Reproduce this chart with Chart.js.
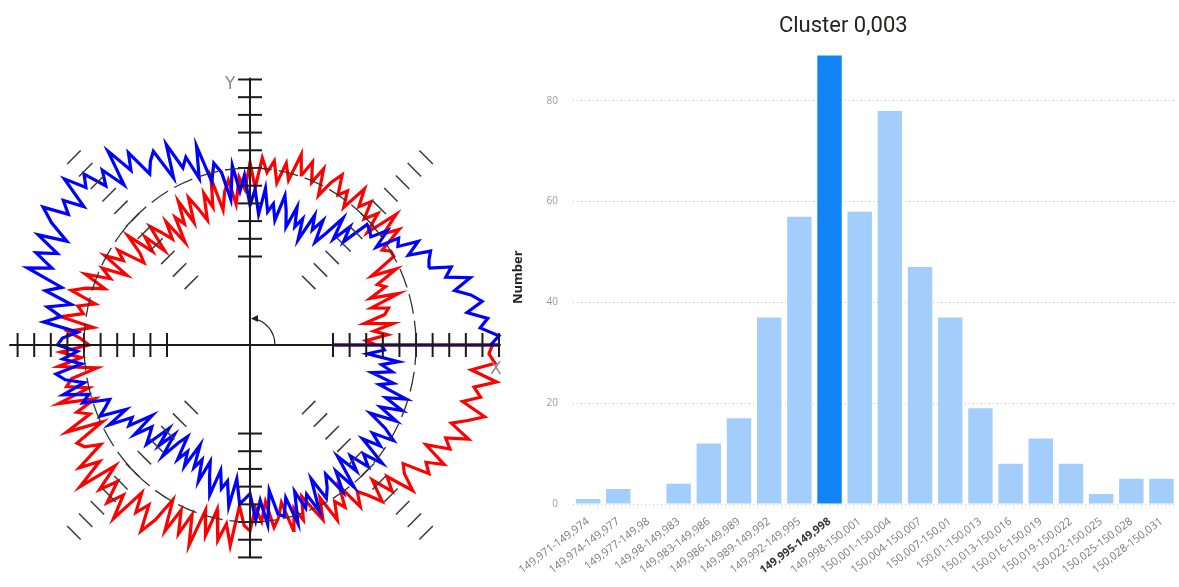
<!DOCTYPE html>
<html>
<head>
<meta charset="utf-8">
<script src="https://cdn.jsdelivr.net/npm/chart.js@4.4.0/dist/chart.umd.min.js"></script>
<style>
  html, body { margin: 0; padding: 0; background: #fff; }
  #wrap { position: relative; width: 1179px; height: 587px; overflow: hidden; }
  #roundCanvas { position: absolute; left: 0; top: 0; }
  #histCanvas { position: absolute; left: 505px; top: 0; }
</style>
</head>
<body>
<div id="wrap">
  <canvas id="roundCanvas" width="510" height="587"></canvas>
  <canvas id="histCanvas" width="674" height="587"></canvas>
</div>
<script>
// Histograma (lado direito)
const classLabels = [
  '149,971-149,974', '149,974-149,977', '149,977-149,98', '149,98-149,983',
  '149,983-149,986', '149,986-149,989', '149,989-149,992', '149,992-149,995',
  '149,995-149,998', '149,998-150,001', '150,001-150,004', '150,004-150,007',
  '150,007-150,01', '150,01-150,013', '150,013-150,016', '150,016-150,019',
  '150,019-150,022', '150,022-150,025', '150,025-150,028', '150,028-150,031'
];
const classCounts = [1, 3, 0, 4, 12, 17, 37, 57, 89, 58, 78, 47, 37, 19, 8, 13, 8, 2, 5, 5];
const highlightIndex = 8;
const countTicks = [0, 20, 40, 60, 80];

// Gráfico de circularidade (lado esquerdo): ângulo em graus, raio em unidades (círculo de referência = 100)
const traceAngles = [
  0, 0, 0, 2, 4, 6, 8, 10, 12, 14, 16, 18, 20, 22, 24, 26, 28, 30, 32, 34, 36, 38, 40, 42, 44,
  46, 48, 50, 52, 54, 56, 58, 60, 62, 64, 66, 68, 70, 72, 74, 76, 78, 80, 82, 84, 86, 88,
  90, 92, 94, 96, 98, 100, 102, 104, 106, 108, 110, 112, 114, 116, 118, 120, 122, 124, 126, 128,
  130, 132, 134, 136, 138, 140, 142, 144, 146, 148, 150, 152, 154, 156, 158, 160, 162, 164, 166,
  168, 170, 172, 174, 176, 178,
  180, 182, 184, 186, 188, 190, 192, 194, 196, 198, 200, 202, 204, 206, 208, 210, 212, 214, 216,
  218, 220, 222, 224, 226, 228, 230, 232, 234, 236, 238, 240, 242, 244, 246, 248, 250, 252, 254,
  256, 258, 260, 262, 264, 266, 268,
  270, 272, 274, 276, 278, 280, 282, 284, 286, 288, 290, 292, 294, 296, 298, 300, 302, 304, 306,
  308, 310, 312, 314, 316, 318, 320, 322, 324, 326, 328, 330, 332, 334, 336, 338, 340, 342, 344,
  346, 348, 350, 352, 354, 356, 358, 360, 360
];
const blueRadius = [
  50, 150, 145,
  150, 139, 144, 132, 142, 136, 127, 138, 124, 129, 116, 118, 121, 108, 117, 105, 108, 94, 105, 95, 97, 98,
  81, 90, 78, 91, 78, 70, 83, 75, 83, 66, 78, 72, 83, 70, 79, 87, 72, 81, 76, 89, 74, 88,
  79, 96, 87, 102, 83, 99, 105, 95, 117, 99, 113, 108, 124, 105, 124, 120, 114, 131, 122, 139,
  118, 133, 125, 139, 133, 146, 127, 139, 132, 147, 138, 125, 142, 127, 139, 127, 141, 118, 127,
  110, 124, 115, 125, 104, 113,
  116, 104, 113, 102, 118, 113, 102, 116, 101, 106, 90, 94, 99, 83, 96, 82, 86, 71, 86,
  75, 79, 84, 68, 79, 68, 82, 70, 64, 78, 71, 79, 64, 77, 71, 83, 70, 79, 88,
  73, 83, 78, 92, 76, 90, 87,
  84, 99, 88, 102, 83, 97, 99, 89, 105, 87, 98, 91, 103, 84, 98, 93, 86, 100, 88,
  102, 82, 96, 87, 99, 92, 104, 86, 97, 89, 102, 94, 82, 98, 86, 99, 87, 99, 81,
  89, 75, 87, 80, 90, 71, 81, 79, 50
];
const redRadius = [
  50, 150, 76,
  70, 83, 75, 87, 70, 83, 86, 76, 94, 77, 88, 84, 98, 83, 100, 100, 96, 111, 102, 115, 95, 107,
  99, 109, 102, 112, 96, 105, 100, 111, 104, 94, 109, 99, 110, 101, 112, 96, 105, 93, 105, 98, 106, 89,
  103, 88, 95, 80, 94, 88, 78, 97, 81, 90, 75, 83, 91, 77, 92, 79, 85, 70, 86, 76,
  83, 90, 74, 88, 79, 96, 84, 79, 96, 90, 101, 84, 99, 92, 107, 93, 104, 112, 96,
  106, 102, 115, 95, 110, 102,
  97, 114, 102, 116, 93, 109, 113, 100, 120, 98, 111, 104, 121, 99, 118, 115, 106, 124, 112,
  130, 106, 122, 111, 124, 114, 128, 106, 117, 109, 124, 114, 99, 117, 102, 115, 102, 119, 97,
  111, 95, 112, 102, 114, 91, 102,
  105, 92, 100, 89, 104, 99, 91, 108, 96, 104, 91, 99, 108, 96, 112, 102, 108, 96, 113,
  105, 111, 119, 106, 119, 111, 128, 118, 114, 130, 125, 135, 120, 134, 129, 142, 129, 138, 147,
  132, 142, 137, 150, 134, 148, 144, 146, 50
];
const refCircle = 100;
const axisTicksX = [-140, -130, -120, -110, -100, -90, -80, -70, -60, -50, 50, 60, 70, 80, 90, 100, 110, 120, 130, 140, 150];
const axisTicksY = [-120, -110, -100, -90, -80, -70, -60, -50, 50, 60, 70, 80, 90, 100, 110, 120, 130, 140, 150];
const diagTicks = [50, 60, 70, 80, 90, 100, 110, 120, 130, 140, 150];
const diagAngles = [45, 135, 225, 315];
const xAxisSpan = [-145, 151];
const yAxisSpan = [-120, 151];

Chart.defaults.font.family = '"Open Sans", sans-serif';

const DEG = Math.PI / 180;

function polarPoints(radii) {
  return radii.map((r, i) => ({
    x: r * Math.cos(traceAngles[i] * DEG),
    y: r * Math.sin(traceAngles[i] * DEG)
  }));
}

// Círculo tracejado, seta do ângulo e letras X / Y
const roundDecor = {
  id: 'roundDecor',
  afterDatasetsDraw(chart) {
    const { ctx, scales: { x, y } } = chart;
    const cx = x.getPixelForValue(0);
    const cy = y.getPixelForValue(0);
    ctx.save();
    ctx.strokeStyle = '#333';
    ctx.lineWidth = 1.3;
    ctx.setLineDash([20, 7]);
    ctx.beginPath();
    ctx.ellipse(cx, cy, x.getPixelForValue(refCircle) - cx, cy - y.getPixelForValue(refCircle), 0, 0, Math.PI * 2);
    ctx.stroke();

    ctx.setLineDash([]);
    ctx.lineWidth = 1.2;
    ctx.strokeStyle = '#222';
    const ax = x.getPixelForValue(15) - cx;
    const ay = cy - y.getPixelForValue(15);
    ctx.beginPath();
    ctx.ellipse(cx, cy, ax, ay, 0, -Math.PI / 2 + 0.1, 0);
    ctx.stroke();
    ctx.fillStyle = '#222';
    ctx.beginPath();
    ctx.moveTo(cx + 1, cy - ay);
    ctx.lineTo(cx + 8, cy - ay - 3.5);
    ctx.lineTo(cx + 8, cy - ay + 3.5);
    ctx.closePath();
    ctx.fill();

    ctx.fillStyle = '#8a8a8a';
    ctx.font = '17px "DejaVu Sans"';
    ctx.textAlign = 'center';
    ctx.textBaseline = 'middle';
    ctx.fillText('Y', x.getPixelForValue(-12), y.getPixelForValue(147));
    ctx.fillText('X', x.getPixelForValue(148), y.getPixelForValue(-13.6));
    ctx.restore();
  }
};

const tickSet = (points, rotation, radius, width, color) => ({
  data: points,
  showLine: false,
  pointStyle: 'line',
  pointRadius: radius,
  pointRotation: rotation,
  pointBorderColor: color,
  pointBackgroundColor: color,
  pointBorderWidth: width
});

const diagSets = diagAngles.map(a => tickSet(
  diagTicks.map(r => ({ x: r * Math.cos(a * DEG), y: r * Math.sin(a * DEG) })),
  (a === 45 || a === 225) ? 45 : -45, 9.5, 1.5, '#3a3a3a'
));

new Chart(document.getElementById('roundCanvas'), {
  type: 'scatter',
  data: {
    datasets: [
      { data: xAxisSpan.map(v => ({ x: v, y: 0 })), showLine: true, borderColor: '#1a1a1a', borderWidth: 2, pointRadius: 0 },
      { data: yAxisSpan.map(v => ({ x: 0, y: v })), showLine: true, borderColor: '#1a1a1a', borderWidth: 2, pointRadius: 0 },
      tickSet(axisTicksX.map(v => ({ x: v, y: 0 })), 90, 12, 2, '#1a1a1a'),
      tickSet(axisTicksY.map(v => ({ x: 0, y: v })), 0, 12, 2, '#1a1a1a'),
      ...diagSets,
      { data: polarPoints(blueRadius), showLine: true, borderColor: '#0000ff', borderWidth: 3.2, pointRadius: 0, tension: 0 },
      { data: polarPoints(redRadius), showLine: true, borderColor: '#ff0000', borderWidth: 3.2, pointRadius: 0, tension: 0 }
    ]
  },
  options: {
    responsive: false,
    animation: false,
    layout: { padding: 0, autoPadding: false },
    plugins: { legend: { display: false }, tooltip: { enabled: false } },
    scales: {
      x: { type: 'linear', min: -150.6, max: 156.6, display: false },
      y: { type: 'linear', min: -136.7, max: 194.9, display: false }
    }
  },
  plugins: [roundDecor]
});

new Chart(document.getElementById('histCanvas'), {
  type: 'bar',
  data: {
    labels: classLabels,
    datasets: [{
      data: classCounts,
      backgroundColor: classCounts.map((_, i) => i === highlightIndex ? '#1185f8' : '#a3cefc'),
      barPercentage: 0.81,
      categoryPercentage: 1
    }]
  },
  options: {
    responsive: false,
    animation: false,
    layout: { padding: { left: 5, right: 2.4, top: 0, bottom: 0 } },
    plugins: {
      legend: { display: false },
      tooltip: { enabled: false },
      title: {
        display: true,
        text: 'Cluster 0,003',
        color: '#252423',
        font: { family: 'Roboto', size: 22, weight: 'normal' },
        padding: { top: 13, bottom: 11 }
      }
    },
    scales: {
      x: {
        grid: { display: false },
        border: { display: false },
        ticks: {
          autoSkip: false,
          minRotation: 37,
          maxRotation: 37,
          padding: 3,
          color: (c) => c.index === highlightIndex ? '#333' : '#7a7a7a',
          font: (c) => ({ family: '"Open Sans"', size: 11, weight: c.index === highlightIndex ? 'bold' : 'normal' })
        },
        afterFit: (s) => { s.height = 83; s.paddingLeft = 0; s.paddingRight = 0; }
      },
      y: {
        min: 0,
        max: 90,
        afterBuildTicks: (s) => { s.ticks = countTicks.map(v => ({ value: v })); },
        grid: { color: '#c4c4c4', lineWidth: 1, drawTicks: false },
        border: { display: false, dash: [1, 3] },
        ticks: { color: '#9a9a9a', font: { size: 10 }, padding: 15 },
        title: {
          display: true,
          text: 'Number',
          color: '#252423',
          font: { size: 13, weight: 'bold' },
          padding: { top: 0, bottom: 0 }
        },
        afterFit: (s) => { s.width = 63; }
      }
    }
  }
});
</script>
</body>
</html>
